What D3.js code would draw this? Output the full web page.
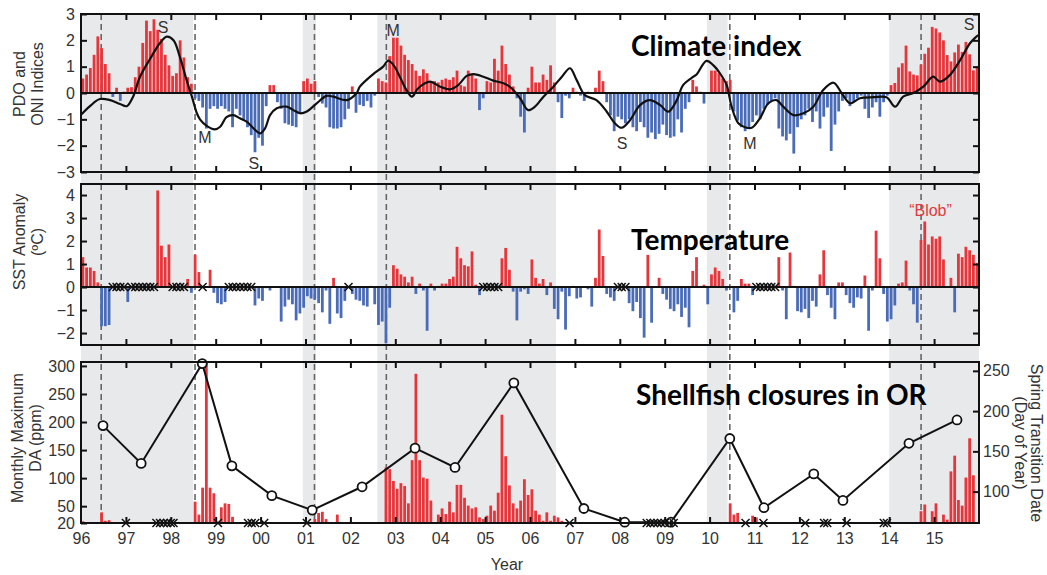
<!DOCTYPE html>
<html>
<head>
<meta charset="utf-8">
<script src="https://cdn.jsdelivr.net/npm/d3@7"></script>
<style>
  body { margin: 0; background: #fff; }
  svg text { font-family: "Liberation Sans", Arial, sans-serif; }
</style>
</head>
<body>
<div id="chart"></div>
<script>
// GLOBALS AND CONSTANTS
const width = 1047;
const height = 575;
const plotLeft = 81;
const plotRight = 979;
const climatePanel = { top: 14, bottom: 172 };
const sstPanel = { top: 184, bottom: 345 };
const daPanel = { top: 362, bottom: 523 };

// DATA
const yearLabels = ['96', '97', '98', '99', '00', '01', '02', '03', '04', '05',
  '06', '07', '08', '09', '10', '11', '12', '13', '14', '15'];

// monthly PDO index, one row per year 1996..2015
const pdoByYear = [
  [0.55, 0.7, 0.95, 1.45, 2.15, 1.7, 1.1, 0.75, -0.15, 0.2, -0.3, 0.05],
  [0.2, 0.22, 0.6, 1.0, 1.9, 2.75, 2.35, 2.8, 2.4, 2.05, 1.45, 1.05],
  [0.65, 0.75, 2.0, 1.35, 0.6, 0.35, -0.2, -0.3, -0.55, -1.35, -0.6, -0.5],
  [-0.6, -0.5, -0.6, -0.7, -1.3, -0.6, -0.85, -1.05, -1.3, -1.6, -2.25, -1.7],
  [-2.0, -0.5, 0.3, 0.3, -0.35, -0.6, -1.15, -1.2, -1.25, -1.3, -0.8, 0.45],
  [0.55, 0.35, 0.45, -0.15, -0.4, -0.55, -1.3, -1.35, -1.35, -1.3, -1.0, -0.6],
  [0.25, -0.75, -0.45, -0.5, -0.3, -0.55, -0.1, 0.55, 0.45, 0.4, 1.4, 2.1],
  [2.1, 1.8, 1.45, 1.25, 1.1, 0.85, 0.65, 0.9, 0.75, 0.45, 0.45, 0.4],
  [0.5, 0.55, 0.5, 0.6, 0.85, 0.3, 0.25, 0.85, 0.7, 0.55, -0.65, -0.2],
  [0.45, 0.4, 1.3, 0.85, 1.8, 1.1, 0.7, 0.25, -0.2, -0.9, -1.5, 0.2],
  [1.0, 0.4, 0.4, 0.7, 0.5, 1.05, 0.4, -0.35, -0.95, -0.1, -0.2, 0.2],
  [0.05, -0.1, -0.3, 0.05, 0.0, 0.2, 0.85, 0.45, -0.35, -0.85, -1.45, -0.9],
  [-1.0, -1.15, -1.0, -1.3, -1.45, -1.1, -1.3, -1.7, -1.5, -1.75, -1.55, -1.2],
  [-1.6, -1.7, -1.65, -1.0, -1.5, -0.6, -0.35, 0.5, 0.25, 0.05, -0.4, 0.0],
  [0.85, 0.85, 0.75, 0.55, 0.45, 0.5, -0.7, -1.05, -1.3, -1.45, -1.35, -1.1],
  [-0.85, -1.0, -0.6, -0.45, -0.3, -0.2, -1.35, -1.65, -1.8, -1.55, -2.3, -1.3],
  [-1.0, -0.85, -0.6, -1.1, -0.7, -1.35, -0.9, -0.55, -2.2, -1.2, -0.7, -0.3],
  [-0.2, -0.5, -0.35, -0.2, -0.1, -0.6, -0.95, -0.55, -0.35, -0.9, -0.35, -0.1],
  [0.3, 0.38, 0.97, 1.13, 1.8, 0.82, 0.7, 0.67, 1.08, 1.49, 1.72, 2.51],
  [2.45, 2.3, 2.0, 1.44, 1.2, 1.54, 1.84, 1.56, 1.94, 1.47, 0.86, 1.01]
];

// smoothed ONI curve [decimal year, value]
const oniCurve = [
  [1996.0, -0.83], [1996.2, -0.5], [1996.42, -0.23], [1996.65, -0.27], [1996.87, -0.42],
  [1997.02, -0.5], [1997.16, -0.14], [1997.31, 0.6], [1997.54, 1.3], [1997.76, 1.9],
  [1997.91, 2.14], [1998.06, 2.0], [1998.2, 1.38], [1998.35, 0.5], [1998.47, -0.14],
  [1998.58, -0.77], [1998.65, -1.0], [1998.8, -1.25], [1998.98, -1.38], [1999.1, -1.28],
  [1999.24, -0.92], [1999.39, -0.84], [1999.54, -0.96], [1999.69, -1.09], [1999.84, -1.34],
  [1999.99, -1.53], [2000.1, -1.34], [2000.21, -0.84], [2000.36, -0.58], [2000.58, -0.52],
  [2000.73, -0.65], [2000.88, -0.77], [2001.03, -0.7], [2001.25, -0.39], [2001.47, -0.11],
  [2001.62, -0.14], [2001.92, -0.27], [2002.14, 0.0], [2002.21, 0.24], [2002.51, 0.72],
  [2002.73, 1.0], [2002.84, 1.23], [2002.96, 1.06], [2003.1, 0.62], [2003.25, 0.11],
  [2003.37, -0.14], [2003.51, 0.18], [2003.77, 0.43], [2004.0, 0.24], [2004.22, 0.14],
  [2004.4, 0.3], [2004.59, 0.65], [2004.74, 0.72], [2004.96, 0.62], [2005.18, 0.47],
  [2005.41, 0.37], [2005.59, 0.18], [2005.78, -0.2], [2005.96, -0.65], [2006.11, -0.52],
  [2006.3, -0.14], [2006.52, 0.24], [2006.71, 0.62], [2006.89, 0.94], [2007.04, 0.49],
  [2007.22, -0.08], [2007.48, -0.27], [2007.71, -0.71], [2007.89, -1.15], [2008.04, -1.32],
  [2008.23, -1.03], [2008.45, -0.46], [2008.67, -0.27], [2008.9, -0.46], [2009.08, -0.71],
  [2009.27, -0.27], [2009.41, 0.3], [2009.64, 0.62], [2009.71, 0.7], [2009.93, 1.22],
  [2010.08, 1.06], [2010.23, 0.75], [2010.38, 0.3], [2010.49, -0.52], [2010.64, -1.15],
  [2010.79, -1.3], [2010.94, -1.32], [2011.12, -0.96], [2011.31, -0.39], [2011.49, -0.27],
  [2011.64, -0.52], [2011.87, -0.84], [2012.09, -0.77], [2012.31, -0.52], [2012.53, 0.11],
  [2012.76, 0.39], [2012.94, 0.0], [2013.13, -0.39], [2013.35, -0.2], [2013.65, -0.16],
  [2013.94, -0.16], [2014.13, -0.52], [2014.31, -0.14], [2014.54, 0.0], [2014.76, 0.24],
  [2014.98, 0.62], [2015.13, 0.43], [2015.35, 0.68], [2015.58, 1.25], [2015.8, 1.89],
  [2015.98, 2.2]
];

// S / M labels on the climate panel [text, decimal year, value]
const regimeLabels = [
  ['S', 1997.83, 2.5], ['M', 1998.76, -1.67], ['S', 1999.85, -2.66], ['M', 2002.95, 2.39],
  ['S', 2008.05, -1.9], ['M', 2010.9, -1.9], ['S', 2015.78, 2.62]
];

// monthly SST anomaly (degC), null = no data (x marker)
const sstByYear = [
  [1.3, 0.85, 0.85, 0.7, 0.2, -1.7, -1.7, -1.65, null, null, null, null],
  [-0.65, null, null, null, null, null, null, null, 4.2, 1.8, 1.3, 1.85],
  [null, null, null, null, 0.35, -0.25, 1.4, 0.65, null, 0.02, 0.75, -0.25],
  [-0.7, -0.75, -0.65, null, null, null, null, null, null, null, -0.8, -0.5],
  [-0.6, -0.05, -0.15, 0, 0, -1.5, -0.85, -0.55, -0.75, -1.45, -1.15, -0.9],
  [-0.4, -0.5, -0.55, -0.7, -1.1, -0.15, -1.6, 0.4, -1.15, -1.35, -0.6, null],
  [-0.3, -0.55, -0.6, -0.8, -0.85, 0.05, -0.75, -1.65, -1.5, -2.45, -0.9, 0.95],
  [0.8, 0.55, 0.45, 0.2, 0.45, -0.3, 0.15, -0.15, -1.9, 0.15, -0.15, 0.05],
  [0.15, 0.15, 0.35, 0.45, 1.75, 1.25, 0.95, 0.9, 1.55, 0.1, -0.35, null],
  [null, null, null, null, 1.25, 1.7, 0.75, -0.2, -1.45, -0.2, -0.1, -0.3],
  [1.2, 0.4, 0.15, 0.35, -0.35, 0.2, -0.95, -1.4, -0.2, -1.85, -0.4, 0.05],
  [-0.5, -0.45, 0, -0.1, -0.85, 0.4, 2.5, 1.35, -0.3, -0.45, -0.6, null],
  [null, null, -0.7, -1.05, -0.65, -1.35, -2.2, 1.4, -1.55, 0, 0.4, -0.3],
  [-0.55, -0.95, -1.05, -0.75, -1.3, -0.9, -1.75, 0.7, 1.3, 0.05, 0.1, -0.75],
  [0.55, 0.85, 0.7, 0.35, -0.15, 0, -1.1, -0.6, 0.35, 0.15, 0.15, -0.35],
  [null, null, null, null, null, null, 1.3, -0.15, -1.4, 1.5, 0.05, -1.05],
  [-1.1, -0.95, -1.35, -0.6, -0.85, 0.55, 1.6, -0.35, -0.9, -1.4, 0.2, 0.2],
  [-0.35, -0.7, -0.9, -0.45, -0.5, 0.5, -1.9, -0.15, 2.45, 1.25, -0.3, -1.5],
  [-1.4, -0.8, 0.15, 0.2, 1.15, -0.15, -0.75, -1.55, 2.05, 2.85, 1.85, 2.2],
  [2.1, 2.2, 1.2, 0, 0.4, -1.1, 1.45, 1.3, 1.75, 1.6, 1.4, 1.05]
];

// monthly maximum DA [month index from Jan 1996, ppm]
const daMonthly = [
  [0, 23], [5, 39], [6, 24], [7, 25],
  [30, 58], [31, 35], [32, 83], [33, 307], [34, 83], [35, 73], [37, 48], [38, 55], [39, 54], [40, 31],
  [62, 27], [63, 38], [64, 40], [65, 27], [68, 35],
  [81, 119], [82, 116], [83, 95], [84, 81], [85, 91], [86, 86], [87, 55], [88, 132], [89, 286],
  [90, 132], [91, 101], [92, 99], [93, 60],
  [95, 35], [96, 46], [97, 36], [98, 58], [99, 39], [100, 88], [101, 88], [102, 65], [103, 51],
  [104, 46], [105, 48], [106, 30], [107, 27], [108, 33], [109, 51], [110, 42], [111, 74],
  [112, 213], [113, 139], [114, 87], [115, 55], [116, 46], [117, 60], [118, 98], [119, 70],
  [120, 80], [121, 42], [122, 35], [123, 24], [124, 39], [125, 24], [126, 33], [127, 30], [128, 24],
  [173, 55], [174, 35], [175, 38], [179, 33], [180, 30],
  [224, 41], [225, 53], [227, 41], [228, 55], [230, 35], [231, 26], [232, 112], [233, 140],
  [234, 61], [235, 51], [236, 101], [237, 171], [238, 105]
];

// months without DA samples (x markers on the baseline), decimal years
const daNoSample = [1997.0, 1997.68, 1997.76, 1997.84, 1997.92, 1998.0, 1998.06, 1999.05,
  1999.72, 1999.8, 1999.88, 2000.08, 2001.03, 2006.88, 2008.6, 2008.68, 2008.76, 2008.84,
  2008.92, 2009.0, 2009.1, 2009.2, 2010.8, 2011.2, 2012.13, 2012.55, 2012.62, 2013.05,
  2013.88, 2013.95];

// spring transition date (day of year)
const springYears = [1996.49, 1997.34, 1998.7, 1999.36, 2000.25, 2001.15, 2002.26, 2003.44,
  2004.33, 2005.64, 2007.2, 2008.11, 2009.14, 2010.45, 2011.21, 2012.32, 2012.97, 2014.44, 2015.51];
const springDays = [182, 135, 259, 132, 95, 77, 106, 154, 130, 235, 79, 62, 62, 166, 80, 122, 89, 160, 189];

// shaded periods and dashed event lines (decimal years)
const shadedPeriods = [[1996.0, 1998.5], [2000.94, 2001.23], [2002.6, 2006.58], [2009.94, 2010.4], [2014.0, 2016.0]];
const eventLines = [1996.45, 1998.54, 2001.2, 2002.8, 2010.45, 2014.71];

const climateTicks = [-3, -2, -1, 0, 1, 2, 3];
const sstTicks = [-2, -1, 0, 1, 2, 3, 4];
const daTicks = [20, 50, 100, 150, 200, 250, 300];
const dayTicks = [100, 150, 200, 250];

const red = '#e5363c';
const blue = '#4a6cb8';

// CREATE SVG
const svg = d3.select('#chart')
  .append('svg')
  .attr('width', width)
  .attr('height', height);

const x = d3.scaleLinear().domain([1996, 2016]).range([plotLeft, plotRight]);
const monthX = i => x(1996 + (i + 0.5) / 12);
const barW = 2.8;

const yClim = d3.scaleLinear().domain([-3, 3]).range([climatePanel.bottom, climatePanel.top]);
const ySst = d3.scaleLinear().domain([-2.52, 4.48]).range([sstPanel.bottom, sstPanel.top]);
const yDa = d3.scaleLinear().domain([20, 307]).range([daPanel.bottom, daPanel.top]);
const yDay = d3.scaleLinear().domain([61, 261]).range([daPanel.bottom, daPanel.top]);

// SHADING AND EVENT LINES
svg.append('g')
  .selectAll('rect')
  .data(shadedPeriods)
  .join('rect')
  .attr('x', d => x(d[0]))
  .attr('width', d => x(d[1]) - x(d[0]))
  .attr('y', climatePanel.top)
  .attr('height', daPanel.bottom - climatePanel.top)
  .attr('fill', '#e8e9eb');

svg.append('g')
  .selectAll('line')
  .data(eventLines)
  .join('line')
  .attr('x1', d => x(d))
  .attr('x2', d => x(d))
  .attr('y1', climatePanel.top)
  .attr('y2', daPanel.bottom)
  .attr('stroke', '#666')
  .attr('stroke-width', 1.6)
  .attr('stroke-dasharray', '6,4');

// BARS ABOUT ZERO
function zeroBars(values, y) {
  svg.append('g')
    .selectAll('rect')
    .data(values.map((v, i) => ({ i, v })).filter(d => d.v !== null))
    .join('rect')
    .attr('x', d => monthX(d.i) - barW / 2)
    .attr('width', barW)
    .attr('y', d => Math.min(y(d.v), y(0)))
    .attr('height', d => Math.abs(y(d.v) - y(0)))
    .attr('fill', d => d.v >= 0 ? red : blue);

  svg.append('line')
    .attr('x1', plotLeft)
    .attr('x2', plotRight)
    .attr('y1', y(0))
    .attr('y2', y(0))
    .attr('stroke', '#111')
    .attr('stroke-width', 2);
}

// FRAME, YEAR TICKS AND Y AXES
function styleAxis(g) {
  g.select('.domain').remove();
  g.selectAll('.tick line').attr('stroke', '#111').attr('stroke-width', 2);
  g.selectAll('.tick text').attr('fill', '#333').style('font-size', '16px').attr('font-family', null);
}

function drawFrame(panel, yLeft, leftTicks, yRight, rightTicks, rightLabels) {
  svg.append('g')
    .attr('transform', `translate(0,${panel.top})`)
    .call(d3.axisTop(x).tickValues(d3.range(1997, 2016)).tickSize(-6).tickFormat(''))
    .call(styleAxis);

  svg.append('g')
    .attr('transform', `translate(0,${panel.bottom})`)
    .call(d3.axisBottom(x).tickValues(d3.range(1997, 2016)).tickSize(-6).tickFormat(''))
    .call(styleAxis);

  svg.append('g')
    .attr('transform', `translate(${plotLeft},0)`)
    .call(d3.axisLeft(yLeft).tickValues(leftTicks).tickSize(-6).tickPadding(6).tickFormat(d3.format('d')))
    .call(styleAxis);

  svg.append('g')
    .attr('transform', `translate(${plotRight},0)`)
    .call(d3.axisRight(yRight).tickValues(rightTicks).tickSize(-6).tickPadding(4)
      .tickFormat(rightLabels ? d3.format('d') : ''))
    .call(styleAxis);

  svg.append('rect')
    .attr('x', plotLeft)
    .attr('y', panel.top)
    .attr('width', plotRight - plotLeft)
    .attr('height', panel.bottom - panel.top)
    .attr('fill', 'none')
    .attr('stroke', '#111')
    .attr('stroke-width', 2);
}

function xMarks(points, y) {
  svg.append('g')
    .selectAll('path')
    .data(points)
    .join('path')
    .attr('transform', d => `translate(${d},${y})`)
    .attr('d', 'M-4,-4L4,4M-4,4L4,-4')
    .attr('stroke', '#111')
    .attr('stroke-width', 1.5)
    .attr('fill', 'none');
}

// CLIMATE INDEX PANEL
zeroBars(pdoByYear.flat(), yClim);

svg.append('path')
  .datum(oniCurve)
  .attr('fill', 'none')
  .attr('stroke', '#111')
  .attr('stroke-width', 2.2)
  .attr('d', d3.line().x(d => x(d[0])).y(d => yClim(d[1])).curve(d3.curveCatmullRom.alpha(0.5)));

svg.append('g')
  .selectAll('text')
  .data(regimeLabels)
  .join('text')
  .attr('x', d => x(d[1]))
  .attr('y', d => yClim(d[2]))
  .attr('dy', '0.35em')
  .attr('text-anchor', 'middle')
  .attr('fill', '#333')
  .style('font-size', '16px')
  .text(d => d[0]);

drawFrame(climatePanel, yClim, climateTicks, yClim, climateTicks, false);

// SST PANEL
const sst = sstByYear.flat();
zeroBars(sst, ySst);
xMarks(sst.map((v, i) => v === null ? monthX(i) : null).filter(d => d !== null), ySst(0));
drawFrame(sstPanel, ySst, sstTicks, ySst, sstTicks, false);

svg.append('text')
  .attr('x', x(2014.92))
  .attr('y', 216)
  .attr('text-anchor', 'middle')
  .attr('fill', '#e0393e')
  .style('font-size', '16px')
  .text('\u201CBlob\u201D');

// DA PANEL
svg.append('g')
  .selectAll('rect')
  .data(daMonthly)
  .join('rect')
  .attr('x', d => monthX(d[0]) - barW / 2)
  .attr('width', barW)
  .attr('y', d => yDa(d[1]))
  .attr('height', d => yDa(20) - yDa(d[1]))
  .attr('fill', red);

const springData = springYears.map((yr, i) => [yr, springDays[i]]);

svg.append('path')
  .datum(springData)
  .attr('fill', 'none')
  .attr('stroke', '#111')
  .attr('stroke-width', 2)
  .attr('d', d3.line().x(d => x(d[0])).y(d => yDay(d[1])));

svg.append('g')
  .selectAll('circle')
  .data(springData)
  .join('circle')
  .attr('cx', d => x(d[0]))
  .attr('cy', d => yDay(d[1]))
  .attr('r', 4.5)
  .attr('fill', '#fff')
  .attr('stroke', '#111')
  .attr('stroke-width', 1.8);

xMarks(daNoSample.map(d => x(d)), daPanel.bottom);

drawFrame(daPanel, yDa, daTicks, yDay, dayTicks, true);

// X AXIS LABELS
svg.append('g')
  .attr('transform', `translate(0,${daPanel.bottom})`)
  .call(d3.axisBottom(x).tickValues(d3.range(1996, 2016)).tickSize(0).tickPadding(10)
    .tickFormat((d, i) => yearLabels[i]))
  .call(styleAxis);

svg.append('text')
  .attr('x', 507)
  .attr('y', 570)
  .attr('text-anchor', 'middle')
  .attr('fill', '#333')
  .style('font-size', '16px')
  .text('Year');

// AXIS TITLES
function sideTitle(lines, xs, cy, angle) {
  lines.forEach((t, i) => {
    svg.append('text')
      .attr('transform', `translate(${xs[i]},${cy}) rotate(${angle})`)
      .attr('text-anchor', 'middle')
      .attr('fill', '#333')
      .style('font-size', '16px')
      .text(t);
  });
}
sideTitle(['PDO and', 'ONI Indices'], [25, 43], 84, -90);
sideTitle(['SST Anomaly', '(\u00BAC)'], [25, 43], 242, -90);
sideTitle(['Monthly Maximum', 'DA (ppm)'], [23, 41], 438, -90);
sideTitle(['Spring Transition Date', '(Day of Year)'], [1031, 1015], 443, 90);

// PANEL TITLES
const titles = [['Climate index', 631, 56], ['Temperature', 631, 250], ['Shellfish closures in OR', 636, 405]];
svg.append('g')
  .selectAll('text')
  .data(titles)
  .join('text')
  .attr('x', d => d[1])
  .attr('y', d => d[2])
  .attr('fill', '#000')
  .style('font-family', 'Lato, "Open Sans", sans-serif')
  .style('font-weight', 'bold')
  .style('font-size', '28px')
  .text(d => d[0]);
</script>
</body>
</html>
